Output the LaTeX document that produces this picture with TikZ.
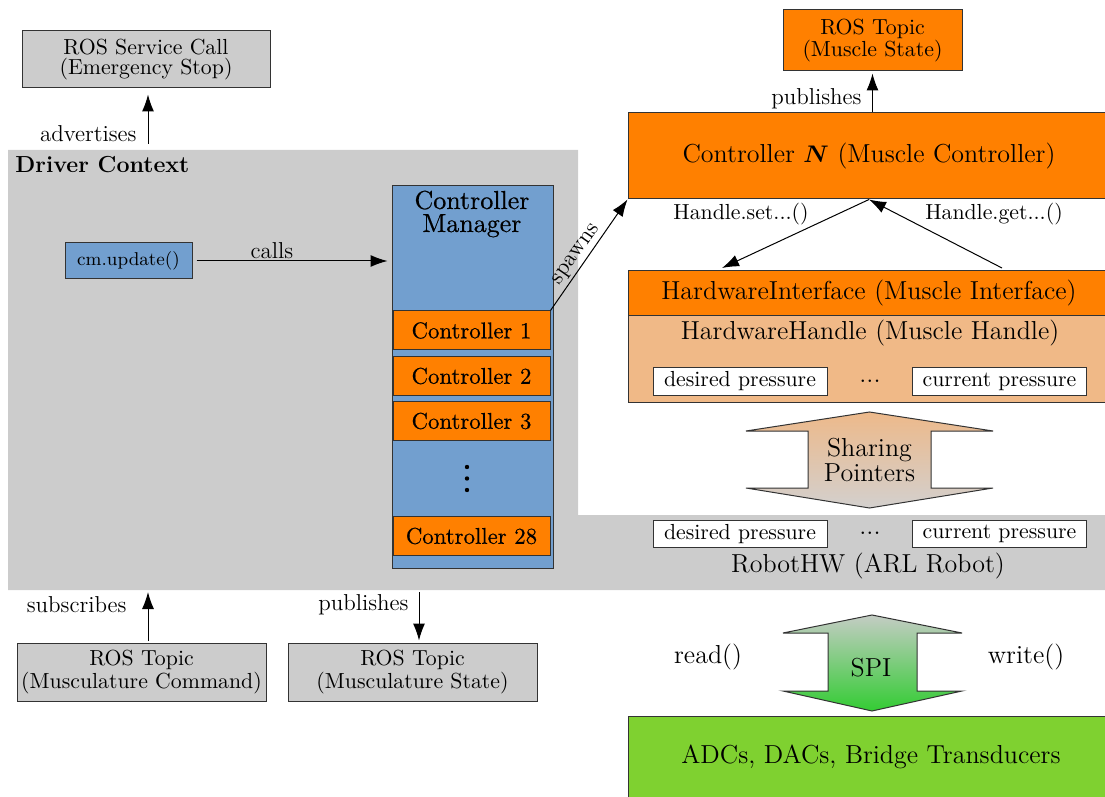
\documentclass[tikz,border=0pt]{standalone}
\usepackage{fontspec}
\usetikzlibrary{arrows.meta,calc}
\newfontfamily\semib[FakeBold=0.45]{lmroman10-regular.otf}
\definecolor{cgray}{HTML}{CCCCCC}
\definecolor{corange}{HTML}{FF8000}
\definecolor{cblue}{HTML}{729FCF}
\definecolor{clight}{HTML}{F0B987}
\definecolor{cgreen}{HTML}{7FD130}
\definecolor{shTop}{HTML}{EDB98A}
\definecolor{shBot}{HTML}{D3D0CE}
\definecolor{spTop}{HTML}{C4CCC4}
\definecolor{spBot}{HTML}{33CC33}
\newcommand{\fsmall}{\fontsize{10.9}{10}\selectfont}
\newcommand{\flarge}{\fontsize{13}{11.5}\selectfont}
\newcommand{\flabel}{\fontsize{11.5}{12}\selectfont}
\newcommand{\fctrl}{\semib\fontsize{11.4}{12}\selectfont}
\begin{document}
\begin{tikzpicture}[x=0.5pt,y=-0.5pt,
  box/.style={draw=black!80, line width=0.5pt, inner sep=0pt, align=center},
  smallbox/.style={box, font=\fsmall},
  lbl/.style={font=\flabel, inner sep=0pt},
  arr/.style={-{Latex[length=8.5pt,width=6pt]}, line width=0.5pt},
  ctrlbox/.style={box, fill=corange, font=\fctrl, minimum width=78.5pt, minimum height=19.5pt},
  valbox/.style={box, fill=white, font=\fsmall, minimum width=87pt, minimum height=13.5pt},
  bigarrow/.style={draw=black!80, line width=0.5pt}
]
\useasboundingbox (0,0) rectangle (1105,797);

% driver context region
\fill[cgray] (8,150) -- (578,150) -- (578,515) -- (1110,515) -- (1110,590) -- (8,590) -- cycle;
\node[font=\fontsize{11.6}{12}\selectfont\bfseries, anchor=west, inner sep=0pt] (drv) at (15,165) {Driver Context};

% top-left service call
\node[smallbox, fill=cgray, minimum width=124pt, minimum height=28.5pt] (svc) at (146,59.5) {ROS Service Call\\(Emergency Stop)};
\coordinate (advS) at (148,144);
\draw[arr, shorten >=3pt] (advS) -- (advS |- svc.south);
\node[lbl, anchor=east] (advL) at (137,134) {advertises};

% cm.update
\node[box, fill=cblue, font=\fontsize{9.3}{10}\selectfont, minimum width=63.5pt, minimum height=18pt] (cmu) at (128.5,261) {cm.update()};

% controller manager
\node[box, fill=cblue, minimum width=80.5pt, minimum height=191pt] (cm) at (472.5,377) {};
\node[font=\semib\fontsize{13}{11.5}\selectfont, align=center, inner sep=0pt] (cmt) at (472,214) {Controller\\Manager};
\node[ctrlbox] (c1) at (471.5,330.5) {Controller 1};
\node[ctrlbox] (c2) at (471.5,376) {Controller 2};
\node[ctrlbox] (c3) at (471.5,421) {Controller 3};
\fill (467,467) circle[radius=2.2] (467,478.5) circle[radius=2.2] (467,490) circle[radius=2.2];
\node[ctrlbox] (c28) at (471.5,536) {Controller 28};

\draw[arr, shorten <=2pt, shorten >=2pt] (cmu.east) -- (cmu.east -| cm.west);
\node[lbl] (callsL) at (272,251) {calls};

% controller N
\node[box, fill=corange, font=\flarge, minimum width=241pt, minimum height=43pt] (ctrlN) at (869,156) {Controller {\boldmath$N$} (Muscle Controller)};
\node[box, fill=corange, font=\fsmall, minimum width=89.5pt, minimum height=30.5pt] (mstate) at (872.5,40.5) {ROS Topic\\(Muscle State)};
\draw[arr, shorten >=1pt] (mstate.south |- ctrlN.north) -- (mstate.south);
\node[lbl, anchor=east] (pubT) at (862,99) {publishes};

\draw[arr] (c1.north east) -- (ctrlN.south west) node[lbl, pos=0.45, above=1pt, sloped] (spL) {spawns};

% hardware interface / handle
\node[box, fill=corange, font=\flarge, minimum width=241pt, minimum height=22.5pt] (hwi) at (869,293.5) {HardwareInterface (Muscle Interface)};
\node[box, fill=clight, minimum width=241pt, minimum height=43pt] (hwh) at (869,359) {};
\node[font=\flarge, inner sep=0pt] (hwhT) at (870,333) {HardwareHandle (Muscle Handle)};
\node[valbox] (des1) at (740,381.5) {desired pressure};
\node[font=\flarge, inner sep=0pt] (dots1) at (870,381) {...};
\node[valbox] (cur1) at (999.5,381.5) {current pressure};

\coordinate (setE) at (722,268);
\coordinate (getS) at (1002,268);
\draw[arr] (ctrlN.south) -- (setE);
\draw[arr] (getS) -- (ctrlN.south);
\node[font=\fsmall, inner sep=0pt] (setL) at (741,214) {Handle.set...()};
\node[font=\fsmall, inner sep=0pt] (getL) at (994,214) {Handle.get...()};

% sharing pointers arrow
\shadedraw[bigarrow, top color=shTop, bottom color=shBot]
  (869.5,412) -- (993,431) -- (931,431) -- (931,488) -- (993,488) -- (869.5,508)
  -- (746,488) -- (808,488) -- (808,431) -- (746,431) -- cycle;
\node[font=\flarge, align=center, inner sep=0pt] (share) at (869.5,460) {Sharing\\Pointers};

% robot HW row
\node[valbox] (des2) at (740,534) {desired pressure};
\node[font=\flarge, inner sep=0pt] (dots2) at (870,533) {...};
\node[valbox] (cur2) at (999.5,534) {current pressure};
\node[font=\flarge, inner sep=0pt] (rhw) at (868,566) {RobotHW (ARL Robot)};

% bottom-left topics
\node[smallbox, fill=cgray, minimum width=124.5pt, minimum height=29pt] (mcmd) at (141.5,672) {ROS Topic\\(Musculature Command)};
\node[smallbox, fill=cgray, minimum width=124.5pt, minimum height=29pt] (mst) at (412.5,672) {ROS Topic\\(Musculature State)};
\coordinate (subS) at (148,641);
\coordinate (subE) at (148,592);
\draw[arr] (subS) -- (subE);
\node[lbl, anchor=east] (subL) at (127,605) {subscribes};
\coordinate (pubS) at (419,592);
\draw[arr, shorten >=1pt] (pubS) -- (pubS |- mst.north);
\node[lbl, anchor=east] (pubL) at (409,605) {publishes};

% SPI arrow
\shadedraw[bigarrow, top color=spTop, bottom color=spBot]
  (872,615) -- (962,633) -- (917,633) -- (917,691) -- (962,691) -- (872,711)
  -- (783,691) -- (828,691) -- (828,633) -- (783,633) -- cycle;
\node[font=\flarge, inner sep=0pt] (spi) at (871,668) {SPI};
\node[font=\flarge, inner sep=0pt] (rd) at (708,657) {read()};
\node[font=\flarge, inner sep=0pt] (wr) at (1026,657) {write()};

% ADC box
\node[box, fill=cgreen, font=\flarge, minimum width=241pt, minimum height=42pt] (adc) at (869,758) {};
\node[font=\flarge, inner sep=0pt] (adcT) at (871,757) {ADCs, DACs, Bridge Transducers};
\end{tikzpicture}
\end{document}
